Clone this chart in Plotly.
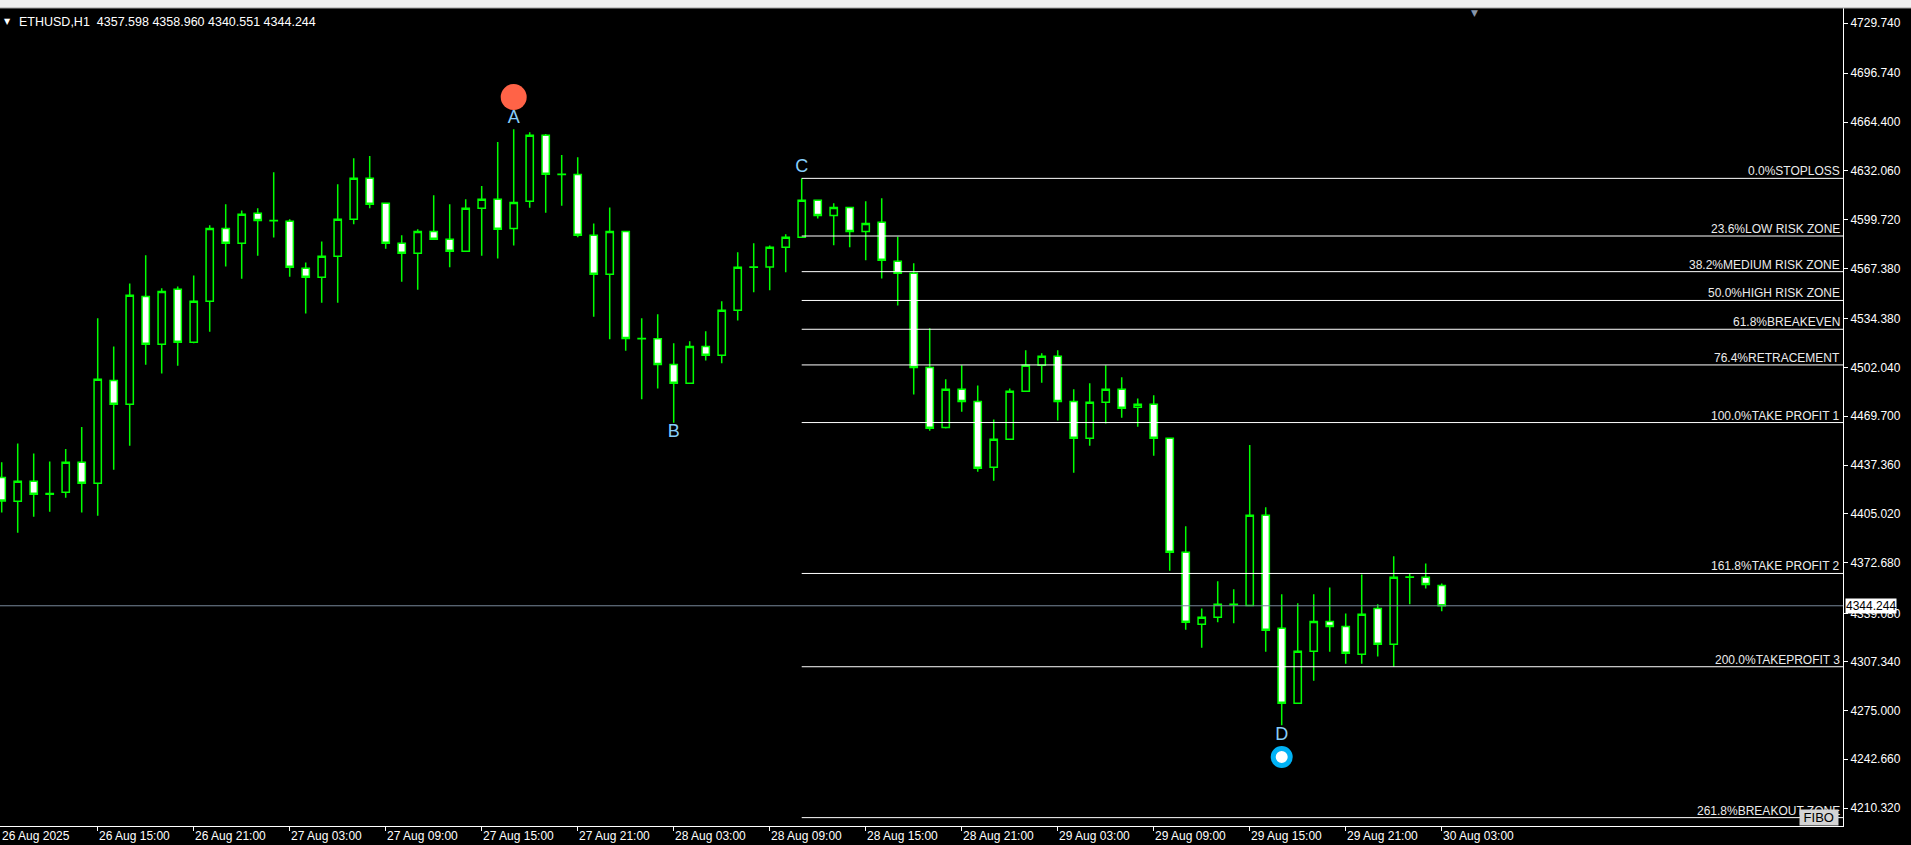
import pandas as pd
import plotly.graph_objects as go

# ETHUSD H1 candles, 26 Aug 2025 09:00 -> 30 Aug 2025 03:00
first_bar = "2025-08-26 09:00"
opens = [4429.2, 4413.4, 4426.6, 4418.0, 4419.3, 4439.2, 4425.3, 4493.4, 4477.6, 4549.0,
         4517.3, 4553.7, 4518.6, 4545.7, 4594.0, 4584.1, 4604.0, 4599.3, 4598.7, 4567.6,
         4561.6, 4575.5, 4600.0, 4627.1, 4610.6, 4584.1, 4577.5, 4592.0, 4586.8, 4578.8,
         4607.3, 4613.2, 4594.0, 4611.9, 4655.6, 4629.8, 4629.6, 4589.4, 4563.6, 4592.0,
         4521.2, 4521.0, 4504.0, 4491.5, 4515.9, 4510.0, 4539.8, 4568.2, 4568.4, 4581.5,
         4588.1, 4612.6, 4602.6, 4607.9, 4592.0, 4598.0, 4572.2, 4564.3, 4502.0, 4462.3,
         4487.5, 4479.5, 4435.9, 4454.4, 4486.2, 4503.4, 4509.3, 4479.5, 4455.1, 4478.9,
         4487.5, 4475.6, 4477.6, 4455.1, 4379.6, 4332.0, 4336.6, 4345.2, 4344.5, 4404.1,
         4329.3, 4279.7, 4314.1, 4333.9, 4330.6, 4312.1, 4342.5, 4318.7, 4363.1, 4363.1,
         4357.598]
highs = [4439.2, 4451.7, 4445.1, 4439.8, 4448.0, 4462.6, 4534.5, 4515.9, 4557.6, 4576.2,
         4554.3, 4555.6, 4562.9, 4596.0, 4609.9, 4605.9, 4607.3, 4631.1, 4600.0, 4571.5,
         4585.4, 4623.2, 4640.4, 4641.9, 4610.9, 4589.4, 4593.4, 4615.9, 4609.9, 4613.2,
         4622.1, 4651.2, 4659.6, 4657.6, 4656.5, 4642.6, 4641.0, 4597.3, 4607.9, 4592.3,
         4534.5, 4537.1, 4517.9, 4519.3, 4525.9, 4545.7, 4578.2, 4584.1, 4582.6, 4590.1,
         4627.1, 4612.9, 4610.6, 4608.2, 4611.9, 4613.9, 4588.5, 4570.9, 4527.9, 4494.1,
         4503.4, 4490.1, 4467.6, 4488.1, 4513.3, 4511.3, 4513.3, 4487.5, 4491.5, 4503.4,
         4495.4, 4481.5, 4483.5, 4455.4, 4396.8, 4342.5, 4360.4, 4355.1, 4450.6, 4409.4,
         4351.8, 4345.9, 4351.8, 4356.4, 4339.2, 4365.0, 4345.2, 4377.0, 4365.7, 4372.3,
         4358.960]
lows = [4405.9, 4392.6, 4403.2, 4406.5, 4415.8, 4405.9, 4403.9, 4434.3, 4450.2, 4503.8,
        4497.9, 4503.1, 4518.0, 4525.6, 4568.7, 4560.7, 4575.9, 4587.9, 4562.0, 4537.6,
        4544.8, 4544.8, 4596.7, 4607.3, 4580.6, 4558.7, 4553.4, 4586.5, 4568.2, 4578.5,
        4575.9, 4574.0, 4582.6, 4607.7, 4604.4, 4609.0, 4588.1, 4535.6, 4520.6, 4513.1,
        4480.9, 4488.1, 4465.4, 4491.2, 4506.5, 4504.7, 4533.1, 4551.7, 4553.0, 4564.9,
        4587.8, 4600.6, 4582.8, 4581.5, 4572.9, 4560.9, 4542.9, 4484.0, 4460.1, 4461.5,
        4472.7, 4433.0, 4427.0, 4454.1, 4485.9, 4491.9, 4466.8, 4432.3, 4450.2, 4464.8,
        4468.7, 4462.8, 4443.6, 4367.5, 4328.4, 4316.5, 4333.3, 4332.6, 4344.2, 4313.9,
        4265.1, 4279.4, 4294.7, 4313.9, 4305.9, 4305.9, 4310.6, 4303.9, 4345.2, 4355.6,
        4340.551]
closes = [4413.6, 4426.6, 4418.0, 4418.6, 4439.2, 4425.3, 4494.1, 4477.6, 4549.7, 4517.3,
          4552.3, 4518.6, 4545.7, 4594.0, 4584.1, 4603.3, 4599.3, 4599.0, 4568.2, 4561.6,
          4575.5, 4600.0, 4627.1, 4609.9, 4584.1, 4577.5, 4592.0, 4586.8, 4578.8, 4607.3,
          4613.2, 4593.4, 4611.2, 4655.6, 4629.8, 4629.6, 4589.4, 4563.6, 4592.0, 4521.2,
          4521.0, 4504.0, 4491.5, 4515.9, 4510.0, 4539.8, 4568.2, 4568.4, 4581.5, 4588.1,
          4612.6, 4602.6, 4607.9, 4592.0, 4597.3, 4572.9, 4564.3, 4502.0, 4461.7, 4487.5,
          4479.5, 4435.2, 4454.4, 4486.2, 4503.4, 4509.3, 4479.5, 4455.1, 4478.9, 4487.5,
          4474.9, 4477.6, 4455.1, 4379.6, 4333.3, 4336.6, 4345.2, 4345.0, 4404.1, 4328.0,
          4279.7, 4314.1, 4333.9, 4330.6, 4312.8, 4338.6, 4318.7, 4363.1, 4363.3, 4358.4,
          4344.244]

# right price scale (MT4 style labels)
price_ticks = [4729.740, 4696.740, 4664.400, 4632.060, 4599.720, 4567.380, 4534.380,
               4502.040, 4469.700, 4437.360, 4405.020, 4372.680, 4339.080, 4307.340,
               4275.000, 4242.660, 4210.320]

# time scale labels
time_ticks = ["2025-08-26 15:00", "2025-08-26 21:00", "2025-08-27 03:00", "2025-08-27 09:00",
              "2025-08-27 15:00", "2025-08-27 21:00", "2025-08-28 03:00", "2025-08-28 09:00",
              "2025-08-28 15:00", "2025-08-28 21:00", "2025-08-29 03:00", "2025-08-29 09:00",
              "2025-08-29 15:00", "2025-08-29 21:00", "2025-08-30 03:00"]
time_labels = ["26 Aug 15:00", "26 Aug 21:00", "27 Aug 03:00", "27 Aug 09:00",
               "27 Aug 15:00", "27 Aug 21:00", "28 Aug 03:00", "28 Aug 09:00",
               "28 Aug 15:00", "28 Aug 21:00", "29 Aug 03:00", "29 Aug 09:00",
               "29 Aug 15:00", "29 Aug 21:00", "30 Aug 03:00"]

# fibo drawn from C high (0%) to B low (100%)
fib_high = 4627.1
fib_low = 4465.5
fib_start = "2025-08-28 11:00"
fib_levels = [0.0, 23.6, 38.2, 50.0, 61.8, 76.4, 100.0, 161.8, 200.0, 261.8]
fib_names = ["STOPLOSS", "LOW RISK ZONE", "MEDIUM RISK ZONE", "HIGH RISK ZONE", "BREAKEVEN",
             "RETRACEMENT", "TAKE PROFIT 1", "TAKE PROFIT 2", "TAKEPROFIT 3", "BREAKOUT ZONE"]

# wave points
wave_labels = ["A", "B", "C", "D"]
wave_times = ["2025-08-27 17:00", "2025-08-28 03:00", "2025-08-28 11:00", "2025-08-29 17:00"]
wave_label_prices = [4667.0, 4458.8, 4634.6, 4258.1]
peak_time, peak_price = "2025-08-27 17:00", 4680.9
trough_time, trough_price = "2025-08-29 17:00", 4244.2

FONT = "Liberation Sans"
times = pd.date_range(first_bar, periods=len(opens), freq="h")
hour = pd.Timedelta(hours=1)
x_range = [times[0] - 0.106 * hour, times[0] + 115.08 * hour]
y_range = [4198.5, 4739.85]
bid = closes[-1]

fig = go.Figure()

fig.add_trace(go.Candlestick(
    x=times, open=opens, high=highs, low=lows, close=closes,
    increasing=dict(line=dict(color="#00ff00", width=1.5), fillcolor="black"),
    decreasing=dict(line=dict(color="#00ff00", width=1.5), fillcolor="white"),
    whiskerwidth=0,
    hoverinfo="skip",
    showlegend=False,
))

# fibo levels
for lvl, name in zip(fib_levels, fib_names):
    price = fib_high - lvl / 100.0 * (fib_high - fib_low)
    fig.add_shape(type="line", xref="x", yref="y", x0=fib_start, x1=x_range[1],
                  y0=price, y1=price, line=dict(color="white", width=1))
    fig.add_annotation(xref="paper", yref="y", x=1, y=price, xanchor="right", yanchor="bottom",
                       xshift=-1, yshift=-2, showarrow=False, text=f"{lvl:.1f}%{name}",
                       font=dict(family=FONT, size=12, color="#ececec"))

# bid line
fig.add_shape(type="line", xref="paper", yref="y", x0=0, x1=1, y0=bid, y1=bid,
              line=dict(color="#778899", width=1))

# wave markers
fig.add_trace(go.Scatter(x=[peak_time], y=[peak_price], mode="markers",
                         marker=dict(size=26, color="#ff6347"), hoverinfo="skip", showlegend=False))
fig.add_trace(go.Scatter(x=[trough_time], y=[trough_price], mode="markers",
                         marker=dict(size=17, color="white", line=dict(color="#00b2f5", width=5)),
                         hoverinfo="skip", showlegend=False))
fig.add_trace(go.Scatter(x=wave_times, y=wave_label_prices, mode="text", text=wave_labels,
                         textposition="middle center",
                         textfont=dict(family=FONT, size=18, color="#87cefa"),
                         hoverinfo="skip", showlegend=False))

# time labels, left aligned from the tick like MT4
fig.add_annotation(xref="paper", yref="paper", x=0, y=0, xanchor="left", yanchor="top",
                   yshift=-1, showarrow=False, text="26 Aug 2025",
                   font=dict(family=FONT, size=12, color="white"))
for t, lab in zip(time_ticks, time_labels):
    fig.add_annotation(xref="x", yref="paper", x=t, y=0, xanchor="left", yanchor="top",
                       xshift=-1, yshift=-1, showarrow=False, text=lab,
                       font=dict(family=FONT, size=12, color="white"))

# bid price box on the scale
fig.add_annotation(xref="paper", yref="y", x=1, y=bid, xanchor="left", yanchor="middle",
                   xshift=2, showarrow=False, text=f"{bid:.3f}", bgcolor="white",
                   borderpad=0, font=dict(family=FONT, size=12, color="black"))

# header
fig.add_annotation(xref="paper", yref="paper", x=0, y=1, xanchor="left", yanchor="top",
                   xshift=2, yshift=-7, showarrow=False, text="▼",
                   font=dict(family="DejaVu Sans", size=8, color="white"))
fig.add_annotation(xref="paper", yref="paper", x=0, y=1, xanchor="left", yanchor="top",
                   xshift=17, yshift=-5, showarrow=False,
                   text=f"ETHUSD,H1\u00a0\u00a0{opens[-1]:.3f} {highs[-1]:.3f} {lows[-1]:.3f} {closes[-1]:.3f}",
                   font=dict(family=FONT, size=12.5, color="white"))

# chart shift marker and FIBO object label
fig.add_annotation(xref="paper", yref="paper", x=0.8003, y=1, xanchor="center", yanchor="middle",
                   yshift=-5, showarrow=False, text="▼",
                   font=dict(family="DejaVu Sans", size=9, color="#8796aa"))
fig.add_annotation(xref="paper", yref="paper", x=1, y=0, xanchor="right", yanchor="bottom",
                   xshift=-4, yshift=0, showarrow=False, text="\u00a0FIBO\u00a0", bgcolor="#d4d4d4",
                   borderpad=0, font=dict(family=FONT, size=13, color="black"))

# window chrome strip on top
fig.add_shape(type="rect", xref="paper", yref="paper", x0=0, x1=1911 / 1843, y0=1, y1=1 + 8 / 818,
              fillcolor="#f0f0f0", line=dict(width=0), layer="above")
fig.add_shape(type="line", xref="paper", yref="paper", x0=0, x1=1911 / 1843, y0=1, y1=1,
              line=dict(color="#a0a0a0", width=1), layer="above")

fig.update_layout(
    width=1911, height=845,
    margin=dict(l=0, r=68, t=8, b=19),
    paper_bgcolor="black", plot_bgcolor="black",
    boxgap=0.35,
    showlegend=False,
    xaxis=dict(
        type="date", range=x_range, rangeslider=dict(visible=False),
        showgrid=False, zeroline=False,
        showline=True, linecolor="white", linewidth=1,
        ticks="outside", ticklen=4, tickcolor="white",
        tickmode="array", tickvals=time_ticks, showticklabels=False,
    ),
    yaxis=dict(
        side="right", range=y_range,
        showgrid=False, zeroline=False,
        showline=True, linecolor="white", linewidth=1,
        ticks="outside", ticklen=4, tickcolor="white",
        tickmode="array", tickvals=price_ticks, ticktext=[f"{p:.3f}" for p in price_ticks],
        tickfont=dict(family=FONT, size=12, color="white"),
    ),
)

# the page's default body margin would push the chart 8px off the window edge
fig.write_html("out.html", config={"displayModeBar": False},
               post_script="document.body.style.margin='0';")
